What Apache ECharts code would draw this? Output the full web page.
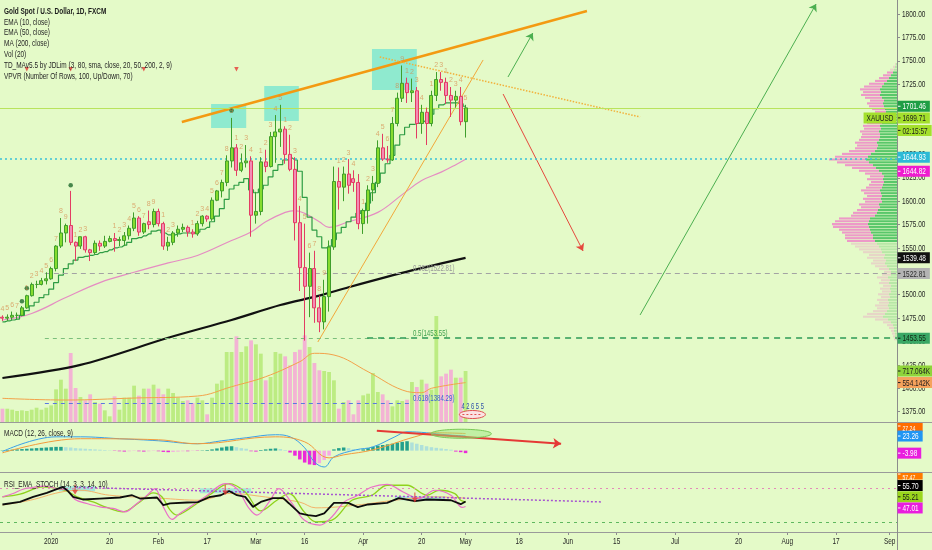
<!DOCTYPE html>
<html><head><meta charset="utf-8">
<script src="https://cdn.jsdelivr.net/npm/echarts@6/dist/echarts.min.js"></script>
<style>html,body{margin:0;padding:0;background:#e4fac8;}#c{width:932px;height:550px;}</style>
</head><body><div id="c"></div>
<script>
// ================= DATA =================
const barDates = ['2019-12-17','2019-12-18','2019-12-19','2019-12-20','2019-12-23','2019-12-24','2019-12-26','2019-12-27','2019-12-30','2019-12-31',
'2020-01-02','2020-01-03','2020-01-06','2020-01-07','2020-01-08','2020-01-09','2020-01-10',
'2020-01-13','2020-01-14','2020-01-15','2020-01-16','2020-01-17',
'2020-01-20','2020-01-21','2020-01-22','2020-01-23','2020-01-24',
'2020-01-27','2020-01-28','2020-01-29','2020-01-30','2020-01-31',
'2020-02-03','2020-02-04','2020-02-05','2020-02-06','2020-02-07',
'2020-02-10','2020-02-11','2020-02-12','2020-02-13','2020-02-14',
'2020-02-17','2020-02-18','2020-02-19','2020-02-20','2020-02-21',
'2020-02-24','2020-02-25','2020-02-26','2020-02-27','2020-02-28',
'2020-03-02','2020-03-03','2020-03-04','2020-03-05','2020-03-06',
'2020-03-09','2020-03-10','2020-03-11','2020-03-12','2020-03-13',
'2020-03-16','2020-03-17','2020-03-18','2020-03-19','2020-03-20',
'2020-03-23','2020-03-24','2020-03-25','2020-03-26','2020-03-27',
'2020-03-30','2020-03-31','2020-04-01','2020-04-02','2020-04-03',
'2020-04-06','2020-04-07','2020-04-08','2020-04-09',
'2020-04-13','2020-04-14','2020-04-15','2020-04-16','2020-04-17',
'2020-04-20','2020-04-21','2020-04-22','2020-04-23','2020-04-24',
'2020-04-27','2020-04-28','2020-04-29','2020-04-30','2020-05-01'];
const slotCount = 184; // trading-day slots on the time axis incl. future space

const opens  = [1476,1475,1476,1478,1478,1486,1499,1511,1511,1515, 1517,1528,1552,1566,1574,1556,1552, 1562,1548,1545,1555,1552, 1557,1560,1558,1558,1563, 1571,1582,1567,1578,1575,
 1589,1576,1552,1556,1566, 1570,1572,1567,1565,1576, 1584,1581,1601,1611,1620, 1643,1657,1633,1641,1643,
 1585,1589,1642,1637,1669, 1674,1677,1650,1634,1577, 1529,1509,1528,1486,1471, 1498,1551,1621,1615,1629, 1624,1620,
 1576,1590,1612, 1619,1657,1645,1644, 1683,1710,1726,1716,1718, 1683,1695,1683,1713,1730, 1727,1713,1708,1712, 1685];
const closes = [1475,1476,1478,1478,1486,1499,1511,1511,1515,1517, 1528,1552,1566,1574,1556,1552,1562, 1548,1545,1555,1552,1557, 1560,1558,1559,1563,1571, 1582,1567,1576,1575,1589,
 1576,1552,1556,1566,1570, 1572,1567,1565,1576,1584, 1581,1601,1611,1620,1643, 1657,1633,1641,1643,1585,
 1589,1642,1637,1669,1674, 1677,1650,1634,1577,1529, 1509,1528,1486,1471,1498, 1551,1621,1615,1629,1617, 1620,1576,
 1590,1612,1619, 1657,1645,1644,1683, 1710,1726,1716,1718,1683, 1695,1683,1713,1730,1727, 1713,1708,1712,1685, 1699.71];
const highs  = [1478,1479,1482,1481,1488,1500,1513,1515,1518,1524, 1530,1553,1582,1576,1611,1557,1562, 1563,1549,1558,1558,1563, 1563,1566,1562,1567,1574, 1588,1584,1577,1590,1592,
 1592,1578,1562,1568,1574, 1576,1574,1570,1579,1585, 1585,1604,1612,1623,1649, 1689,1661,1651,1660,1648,
 1610,1647,1655,1674,1692, 1703,1680,1671,1647,1595, 1576,1545,1547,1499,1516, 1558,1637,1636,1637,1645, 1633,1629,
 1592,1617,1627, 1665,1672,1659,1690, 1716,1745,1732,1731,1722, 1703,1700,1718,1738,1738, 1732,1722,1718,1722, 1703];
const lows   = [1472,1472,1473,1474,1477,1485,1498,1507,1510,1511, 1516,1525,1550,1556,1553,1536,1549, 1545,1536,1543,1547,1550, 1556,1546,1552,1552,1559, 1568,1563,1565,1570,1572,
 1573,1548,1547,1553,1562, 1567,1562,1561,1563,1573, 1578,1579,1600,1604,1616, 1636,1627,1631,1636,1562,
 1576,1585,1631,1636,1641, 1658,1640,1632,1558,1504, 1451,1476,1470,1460,1463, 1482,1548,1591,1600,1608, 1610,1570,
 1565,1576,1600, 1615,1643,1641,1643, 1680,1706,1705,1706,1667, 1672,1660,1680,1707,1718, 1704,1690,1700,1681, 1668];
// volume in thousands
const volumeK = [187,187,173,155,164,155,173,201,173,201, 234,459,595,469,970,478,351, 305,389,281,258,164, 80,361,173,342,342, 511,370,469,469,525,
 469,389,469,408,342, 295,305,267,342,305, 108,342,539,586,984, 984,1205,984,1064,1148,
 1092,961,586,633,984, 961,923,797,984,1017, 1219,1054,830,727,717, 703,586,187,281,305, 108,305,
 375,398,689, 422,389,305,220, 305,295,314,562,492, 595,539,455,1490,642, 680,736,623,623, 717.064];
// EMA(10) drawn as a step line
const ema10 = [1471,1472,1473,1474,1478,1483,1488,1492,1497,1500, 1506,1513,1521,1528,1533,1537,1540, 1541,1542,1543,1545,1546, 1548,1550,1551,1553,1556, 1560,1561,1563,1565,1568,
 1569,1566,1564,1564,1565, 1566,1566,1566,1567,1570, 1572,1578,1584,1592,1602, 1613,1617,1620,1624,1612,
 1609,1613,1617,1626,1633, 1639,1644,1646,1644,1632, 1604,1583,1569,1562,1550, 1552,1559,1566,1572,1578, 1583,1587,
 1590,1598,1609, 1620,1630,1640,1649, 1660,1671,1679,1682,1683, 1685,1687,1693,1699,1703, 1705,1705,1705,1704, 1701.46];
// [bar index, value]
const ema50 = [[0,1473],[6,1480],[13,1497],[20,1513],[27,1524],[34,1534],[40,1542],[47,1558],[51,1567],[54,1578],[58,1588],[60,1590],[62,1587],[65,1578],[67,1572],[71,1578],[77,1588],[82,1607],[86,1622],[90,1631],[93,1639],[95,1644.82]];
const ma200 = [[0,1411],[16,1425],[34,1454],[47,1473],[57,1489],[65,1499],[71,1508],[84,1526],[95,1539.48]];
const volMa20 = [[0,333],[13,309],[27,337],[40,365],[47,496],[54,637],[61,848],[64,966],[68,942],[75,707],[82,450],[86,412],[88,474],[95,554.142]];
// MACD (12,26,9)
const macdLine = [[0,-1.4],[11,22],[16,22],[24,19],[32,15.7],[40,11],[45,15.7],[50,20.5],[56,25.3],[59,22],[62,4.5],[64,-18],[66,-26],[68,-10],[72.5,1.3],[76,6],[80.5,22],[83,30],[87,28.5],[91,25.3],[95,23.26]];
const macdSignal = [[0,-3.5],[16,19],[32,17.3],[40,11],[56,22],[62,14],[67,-11.5],[70,-6.7],[76,1.3],[84.6,22],[88.7,28.5],[95,27.24]];
const macdHist = [0.5,1,1.5,2,2.5,3,3.5,4,4.5,5, 5.5,6,6,5.5,5,4,3.5, 3,2.5,2,1.5,1, 0.5,-0.5,-1,-1.5,-1, -0.5,-1,-1.5,-1,-0.5,
 -1,-2,-2.5,-2,-1.5, -1,-1,-0.5,-0.5,0.5, 1,2,3.5,5,6.5, 7,5.5,4,3,-1,
 -1.5,1,2,3,3.5, 2.5,1,-3,-8,-14, -19,-22,-23,-20,-15, -8,2,4,5,4, 2.5,1.5,
 2,4,6, 8,9,10,11, 13,14,15,13,11, 9,7,5.5,4.5,3.5, 2.5,1.5,-1.5,-2.5, -3.98];
// RSI_EMA_STOCH pane
const rsiBlack = [[0,50.5],[3.6,55],[6.3,64],[9.1,71],[11.4,78.6],[12.4,81.4],[13.4,74.4],[14.5,64],[16.5,59.3],[20,61],[24.1,62.8],[26.6,66.8],[28.2,61],[31.7,62.8],[33,49.3],[34.4,52.3],[37.9,54],[40.1,54.6],[42.4,63.3],[44.8,66.8],[46.5,74.4],[48.1,66.8],[49.8,64],[51.4,46.3],[53,55],[55.5,61.6],[57.6,61.6],[58.8,52.3],[61,34.7],[62.7,31.8],[64.3,30],[66,34.7],[68,53.3],[70.9,53.3],[72.9,45.8],[75,50.5],[78.9,53.3],[81.3,61.6],[84.6,56.3],[87.1,59.3],[92,58],[94,51],[95,55.7]];
const rsiPink = [[0,64],[2.2,69.8],[4.2,77.4],[6.3,80.4],[8.3,83],[11.2,78.6],[13.2,75.6],[14.9,59.3],[17.3,52.3],[20,46.3],[22.7,43.5],[25.1,37.5],[27.6,52.3],[29.7,66.8],[31.3,78.6],[33,46.3],[34.8,24.2],[36.4,34.7],[38.5,46.3],[41.6,64],[45.7,87.4],[48.1,78.6],[50.6,43.5],[52.2,31.8],[54.7,55],[56.7,78.6],[59.4,52.3],[61.9,23],[65.1,14.2],[67.6,28.8],[70.1,55],[72.5,65],[75.8,81.4],[78.9,86],[82.2,72.6],[85.4,61],[88.7,75.6],[92,66.8],[94.3,45.3],[95,47.01]];
const rsiLime = [[0,64],[3.6,68.6],[8.3,81.4],[11.4,78.6],[13.2,74.4],[15.3,64],[18.6,55],[21.4,45.3],[24.7,37.5],[28.2,55],[30.9,71],[32.7,64],[34.4,40.5],[35.8,31.8],[37.9,40.5],[42.4,66.8],[46.5,87.4],[49.8,72.6],[53,39.3],[56.3,58],[58.8,69.8],[61.9,37.5],[64.3,20],[67.6,23],[71.7,58],[75.8,66.8],[78.9,84.4],[83,84.4],[87.1,66.8],[89.6,75.6],[92.8,69.8],[94,58],[95,55.21]];
const rsiOrange = [[0,49.6],[5.7,58],[11.8,72],[15.9,75.6],[22,66.8],[32.3,61.6],[40.5,58],[46.7,70],[52.8,65],[61,54.6],[64.3,44.6],[72.5,49.3],[80.5,58],[88.7,64],[95,61.6]];
// VPVR: rows of 3 price units starting at vpvrLow; up / down volume per row
const vpvrLow = 1451, vpvrStep = 3, vpvrVaLow = 1556, vpvrVaHigh = 1738;
const vpvrUp   = [1,2,2,3,3,4,6,9,14,12, 10,8,9,8,9,7,8,6,7,6, 8,7,9,6,6,8,10,12,11,13, 12,15,16,18,20,22,24,24,26,27, 28,29,28,27,22,20,19,17,18,15,
 16,15,16,17,15,14,13,14,13,15, 18,21,24,28,31,29,26,22,20,19, 20,18,17,17,18,16,17,15,14,12, 10,11,12,13,14,13,15,17,16,17, 15,13,10,8,6,4,3,2,1];
const vpvrDown = [2,2,3,3,5,6,8,13,20,18, 14,12,13,10,11,9,11,9,10,8, 10,9,11,9,7,10,12,14,13,17, 16,19,22,24,26,28,28,28,29,31, 36,36,34,31,24,24,21,19,20,17,
 18,15,17,19,16,14,13,16,14,17, 20,24,28,32,37,33,29,26,22,21, 22,20,19,18,19,17,17,15,14,12, 10,11,13,15,16,14,17,19,18,20, 18,15,12,10,8,6,4,2,1];
// TD sequential markers: dots, top triangles and setup counts [bar index, count]
const tdDots = [[4,1493],[5,1507],[14,1617],[47,1697]];
const tdTops = [[5,1741],[14,1741],[29,1741],[48,1741]];
const tdCounts = [[0,4],[1,5],[2,6],[3,7],[5,1],[6,2],[7,3],[8,4],[9,5],[10,6],[11,7],[12,8],[13,9],[15,1],[16,2],[17,3],
 [23,1],[24,2],[25,3],[26,4],[27,5],[28,6],[29,7],[30,8],[31,9],[33,1],[34,2],[35,3],
 [39,1],[40,2],[41,3],[42,4],[43,5],[44,6],[45,7],[46,8],[47,9],[48,1],[49,2],[50,3],[51,4],
 [53,1],[54,2],[55,3],[56,4],[57,5],[58,1],[59,2],[60,3],[61,4],[62,5],[63,6],[64,7],[65,8],[66,9],
 [69,1],[70,2],[71,3],[72,4],[74,1],[75,2],[76,3],[77,4],[78,5],[79,6],[80,7],[81,8],[82,9],
 [83,1],[84,2],[85,3],[86,4],[88,1],[89,2],[90,3],[91,1],[92,2],[93,3],[94,4],[95,5]];
// axis ticks
const xTickLabels = [[10,'2020'],[22,'20'],[32,'Feb'],[42,'17'],[52,'Mar'],[62,'16'],[74,'Apr'],[86,'20'],[95,'May'],[106,'18'],[116,'Jun'],[126,'15'],[138,'Jul'],[151,'20'],[161,'Aug'],[171,'17'],[182,'Sep']];
const priceTicks = [1375,1400,1425,1450,1475,1500,1525,1550,1575,1600,1625,1650,1675,1700,1725,1750,1775,1800];
// drawings (bar index, price)
const trendTop = [[36.8,1684.6],[119.9,1803.2]];
const trendUp = [[64.7,1449.5],[98.6,1750.9]];
const trendDown = [[77.4,1754.1],[130.8,1690.0]];
const arrowUpShort = [[103.7,1732.7],[108.8,1779.7]];
const arrowDown = [[102.7,1714.5],[119.1,1546.8]];
const arrowUpLong = [[130.8,1478.4],[166.9,1810.7]];
const boxes = [[[42.8,1703.9],[50.0,1678.2]],[[53.7,1723.1],[60.8,1685.7]],[[75.8,1762.6],[85.0,1718.8]]];
const fib = {start:8.7, end:84.2, l382:1522.81, l5:1453.55, l618:1384.29};
const lastPrice = 1699.71, poc = 1644.93;

// ================= CHART =================
const FONT = '"Liberation Sans",Arial,sans-serif';
const SX = 0.68; // horizontal text compression to match the condensed UI font
const BG = '#e4fac8';
const W_PLOT = 897;
const tickMap = {}; xTickLabels.forEach(t => tickMap[t[0]] = t[1]);
const cats = [];
for (let i = 0; i < slotCount; i++) cats.push(i < barDates.length ? barDates[i] : 'f' + i);
const showTick = (idx) => tickMap[idx] !== undefined;

const candleData = opens.map((o, i) => [o, closes[i], lows[i], highs[i]]);
const volData = volumeK.map((v, i) => ({value: v, itemStyle: {color: closes[i] >= opens[i] ? '#bcec82' : '#f3b3d4'}}));
const histData = macdHist.map((v, i) => {
  const prev = i > 0 ? macdHist[i-1] : 0;
  let c;
  if (v >= 0) c = v >= prev ? '#24a08c' : '#aee0da';
  else c = v <= prev ? '#ea2ad9' : '#f6a9e2';
  return {value: v, itemStyle: {color: c}};
});
const vpvrData = vpvrUp.map((u, i) => [vpvrLow + i * vpvrStep, u, vpvrDown[i]]);
const tdCountData = tdCounts.map(c => ({value:[c[0], highs[c[0]]], label:{formatter: String(c[1])}}));

const catAxis = (g, show) => ({type:'category', gridIndex:g, data:cats, boundaryGap:true, show:!!show,
  axisLine:{show:!!show, onZero:false, lineStyle:{color:'#8c8c8c'}},
  axisTick:{show:!!show, interval:showTick, alignWithLabel:true, length:3, lineStyle:{color:'#8c8c8c'}},
  axisLabel:{show:false},
  splitLine:{show:false}});
const valAxisX = (g) => ({type:'value', gridIndex:g, min:-0.5, max:slotCount - 0.5, show:false, axisLine:{show:false, onZero:false}, splitLine:{show:false}});
const rightY = (g, min, max, extra) => Object.assign({type:'value', gridIndex:g, position:'right', min, max, splitLine:{show:false},
  axisLine:{show:true, onZero:false, lineStyle:{color:'#8c8c8c'}}, axisTick:{show:false}, axisLabel:{show:false}}, extra || {});

const lineItem = (pts, color, width, type, arrow) =>
  [{coord: pts[0], symbol:'none', lineStyle:{color, width, type: type || 'solid'}},
   {coord: pts[1], symbol: arrow ? 'arrow' : 'none', symbolSize: arrow ? 7 : 0}];

const option = {
  backgroundColor: BG,
  animation: false,
  textStyle: {fontFamily: FONT},
  grid: [
    {left:0, width:W_PLOT, top:0, height:422, outerBoundsMode:'none'},
    {left:0, width:W_PLOT, top:292, height:130, outerBoundsMode:'none'},
    {left:W_PLOT-100, width:100, top:0, height:422, outerBoundsMode:'none'},
    {left:0, width:W_PLOT, top:423, height:49, outerBoundsMode:'none'},
    {left:0, width:W_PLOT, top:473, height:59, outerBoundsMode:'none'}
  ],
  xAxis: [
    catAxis(0), valAxisX(0),
    catAxis(1), valAxisX(1),
    {type:'value', gridIndex:2, min:0, max:100, inverse:true, show:false, axisLine:{show:false, onZero:false}, splitLine:{show:false}},
    catAxis(3), valAxisX(3),
    catAxis(4, true), valAxisX(4)
  ],
  yAxis: [
    rightY(0, 1364, 1815, {axisTick:{show:true, length:3, customValues:priceTicks, lineStyle:{color:'#8c8c8c'}}}),
    {type:'value', gridIndex:1, min:0, max:1828, show:false, axisLine:{show:false, onZero:false}, splitLine:{show:false}},
    {type:'value', gridIndex:2, min:1364, max:1815, show:false, axisLine:{show:false, onZero:false}, splitLine:{show:false}},
    rightY(3, -34, 44),
    rightY(4, 2, 106)
  ],
  series: [
    // volume
    {type:'bar', xAxisIndex:2, yAxisIndex:1, data:volData, barWidth:'78%', z:1, silent:true},
    {type:'line', xAxisIndex:3, yAxisIndex:1, data:volMa20, smooth:0.4, showSymbol:false, lineStyle:{color:'#f3a24a', width:1}, z:2},
    // VPVR
    {type:'custom', xAxisIndex:4, yAxisIndex:2, data:vpvrData, encode:{x:[1,2], y:0}, z:2, silent:true,
      renderItem:(params, api) => {
        const p = api.value(0), up = api.value(1), dn = api.value(2);
        const a = api.coord([0, p + vpvrStep]);
        const b = api.coord([up, p]);
        const c = api.coord([up + dn, p]);
        const inVA = p >= vpvrVaLow && p < vpvrVaHigh;
        const top = a[1] + 0.35, h = Math.max(0.8, b[1] - a[1] - 0.7);
        return {type:'group', children:[
          {type:'rect', shape:{x:b[0], y:top, width:a[0]-b[0], height:h}, style:{fill: inVA ? 'rgba(50,185,80,0.78)' : 'rgba(80,190,90,0.30)'}},
          {type:'rect', shape:{x:c[0], y:top, width:b[0]-c[0], height:h}, style:{fill: inVA ? 'rgba(240,120,200,0.75)' : 'rgba(240,130,200,0.30)'}}
        ]};
      }},
    // moving averages
    {type:'line', xAxisIndex:1, yAxisIndex:0, data:ma200, smooth:0.3, showSymbol:false, lineStyle:{color:'#111', width:2.2}, z:3},
    {type:'line', xAxisIndex:1, yAxisIndex:0, data:ema50, smooth:0.4, showSymbol:false, lineStyle:{color:'#e58cc2', width:1.2}, z:3},
    {type:'line', xAxisIndex:0, yAxisIndex:0, data:ema10, step:'middle', showSymbol:false, lineStyle:{color:'#2e9c44', width:1.2}, z:4},
    // candles
    {type:'candlestick', xAxisIndex:0, yAxisIndex:0, data:candleData, barWidth:'72%', z:5,
      itemStyle:{color:'#86dc2e', color0:'#f48cb5', borderColor:'#3f9e2c', borderColor0:'#e23c63', borderWidth:1}},
    // TD markers
    {type:'scatter', xAxisIndex:0, yAxisIndex:0, data:tdDots, symbol:'circle', symbolSize:4.5, itemStyle:{color:'#1e6a2c'}, z:6},
    {type:'scatter', xAxisIndex:0, yAxisIndex:0, data:tdTops, symbol:'triangle', symbolRotate:180, symbolSize:4.5, itemStyle:{color:'#e53935'}, z:6},
    {type:'scatter', xAxisIndex:0, yAxisIndex:0, data:tdCountData, symbolSize:0, z:6, silent:true,
      label:{show:true, position:'top', distance:3, fontSize:7, fontFamily:FONT, color:'rgba(214,132,70,0.85)'}},
    // drawings on main pane
    {type:'line', xAxisIndex:1, yAxisIndex:0, data:[[-5,1300]], showSymbol:false, lineStyle:{opacity:0}, z:7, silent:true,
      markArea:{silent:true, itemStyle:{color:'rgba(40,215,215,0.45)'}, data: boxes.map(b => [{coord:b[0]},{coord:b[1]}])},
      markLine:{silent:true, animation:false, label:{show:false}, symbol:['none','none'], data:[
        lineItem(trendTop, '#f39a12', 2.5),
        lineItem(trendUp, '#f2a83a', 1),
        lineItem(trendDown, '#f2b13a', 1.5, 'dotted'),
        lineItem(arrowUpShort, '#4caf50', 1, 'solid', true),
        lineItem(arrowDown, '#e5483d', 1, 'solid', true),
        lineItem(arrowUpLong, '#4caf50', 1, 'solid', true),
        [{coord:[-0.5, lastPrice], lineStyle:{color:'#b9e35c', width:1, type:'solid'}}, {coord:[slotCount-0.5, lastPrice]}],
        [{coord:[-0.5, poc], lineStyle:{color:'#38c1d8', width:1.6, type:[2,3]}}, {coord:[slotCount-0.5, poc]}],
        [{coord:[fib.start, fib.l382], lineStyle:{color:'#a3a3a3', width:1, type:[5,4]}}, {coord:[slotCount-0.5, fib.l382]}],
        [{coord:[fib.start, fib.l5], lineStyle:{color:'#7cbf7c', width:1, type:[4,4]}}, {coord:[fib.end, fib.l5]}],
        [{coord:[74.8, fib.l5], lineStyle:{color:'#2c9a55', width:1.5, type:[6,5]}}, {coord:[slotCount-0.5, fib.l5]}],
        [{coord:[fib.start, fib.l618], lineStyle:{color:'#5a78e0', width:1, type:[4,4]}}, {coord:[fib.end, fib.l618]}]
      ]}},
    // MACD
    {type:'bar', xAxisIndex:5, yAxisIndex:3, data:histData, barWidth:'72%', z:2},
    {type:'line', xAxisIndex:6, yAxisIndex:3, data:macdLine, smooth:0.4, showSymbol:false, lineStyle:{color:'#3aa0e8', width:1}, z:3},
    {type:'line', xAxisIndex:6, yAxisIndex:3, data:macdSignal, smooth:0.4, showSymbol:false, lineStyle:{color:'#f39a3c', width:1}, z:3,
      markLine:{silent:true, label:{show:false}, symbol:['none','none'], data:[
        [{coord:[76.8,31.7], lineStyle:{color:'#e53935', width:2, type:'solid', curveness:0.09}}, {coord:[114.6,10.9], symbol:'arrow', symbolSize:8}]
      ]}},
    // RSI pane
    {type:'line', xAxisIndex:8, yAxisIndex:4, data:rsiOrange, smooth:0.4, showSymbol:false, lineStyle:{color:'#f4b36a', width:1}, z:3,
      markArea:{silent:true, itemStyle:{color:'rgba(90,205,240,0.45)'}, data:[
        [{coord:[11.6,82.6]},{coord:[19,73.9]}],[{coord:[40.5,79]},{coord:[51,70.4]}],[{coord:[80.5,65]},{coord:[90.8,58]}]]},
      markLine:{silent:true, label:{show:false}, symbol:['none','none'], data:[
        [{coord:[-0.5,80], lineStyle:{color:'#e38ab8', width:1.2, type:[2,4]}}, {coord:[slotCount-0.5,80]}],
        [{coord:[-0.5,20], lineStyle:{color:'#5fb85f', width:1.2, type:[3,4]}}, {coord:[slotCount-0.5,20]}],
        [{coord:[14.9,80.9], lineStyle:{color:'#a653d1', width:1.5, type:[2,2]}}, {coord:[122.8,55]}]
      ]}},
    {type:'line', xAxisIndex:8, yAxisIndex:4, data:rsiLime, smooth:0.35, showSymbol:false, lineStyle:{color:'#8fd21c', width:1.3}, z:4},
    {type:'line', xAxisIndex:8, yAxisIndex:4, data:rsiPink, smooth:0.35, showSymbol:false, lineStyle:{color:'#ea6fc8', width:1.2}, z:4},
    {type:'line', xAxisIndex:8, yAxisIndex:4, data:rsiBlack, showSymbol:false, lineStyle:{color:'#0d0d0d', width:1.8}, z:5},
    {type:'scatter', xAxisIndex:8, yAxisIndex:4, data:[[14.9,77],[45.7,76],[84.6,63]], z:6,
      symbol:'path://M4,0 L6,0 L6,7 L10,7 L5,13 L0,7 L4,7 Z', symbolSize:[6,10], itemStyle:{color:'#e53935'}}
  ]
};

const chart = echarts.init(document.getElementById('c'));
chart.setOption(option);

// ============ overlays (positions via the chart's own scales) ============
const px = (xa, v) => chart.convertToPixel({xAxisIndex:xa}, v);
const py = (ya, v) => chart.convertToPixel({yAxisIndex:ya}, v);
const ctx = document.createElement('canvas').getContext('2d');
const measure = (t, size, weight) => { ctx.font = (weight || 'normal') + ' ' + size + 'px ' + FONT; return ctx.measureText(t).width * SX; };
const gfx = [];
const txt = (x, y, text, color, size, weight, align, z) => gfx.push({type:'text', x, y, z: z || 120, scaleX: SX,
  style:{text, fill:color, fontSize:size || 9, fontFamily:FONT, fontWeight:weight || 'normal', verticalAlign:'middle', align:align || 'left'}});
// pane separators & axis continuation
[422.5, 472.5, 532.5].forEach(y => gfx.push({type:'line', z:50, shape:{x1:0, y1:y, x2:932, y2:y}, style:{stroke:'#9a9a9a', lineWidth:1}}));
gfx.push({type:'line', z:50, shape:{x1:W_PLOT+0.5, y1:532, x2:W_PLOT+0.5, y2:550}, style:{stroke:'#8c8c8c', lineWidth:1}});

// price axis labels
priceTicks.forEach(v => txt(W_PLOT + 5, py(0, v), v.toFixed(2), '#1e1e1e', 9.5, 'normal', 'left', 60));
// time axis labels
xTickLabels.forEach(t => txt(chart.convertToPixel({xAxisIndex:7}, t[0]), 541.5, t[1], '#262626', 9.5, 'normal', 'center', 60));

// legend / pane titles
const legendLines = ['Gold Spot / U.S. Dollar, 1D, FXCM','EMA (10, close)','EMA (50, close)','MA (200, close)','Vol (20)',
  'TD_MAv5.5 by JDLim (3, 80, sma, close, 20, 50, 200, 2, 9)','VPVR (Number Of Rows, 100, Up/Down, 70)'];
legendLines.forEach((t, i) => txt(4, 11 + i * 10.9, t, i === 0 ? '#1a1a1a' : '#262626', 9.5, i === 0 ? 'bold' : 'normal'));
txt(4, 433, 'MACD (12, 26, close, 9)', '#262626', 9.5);
txt(4, 484, 'RSI_EMA_STOCH (14, 3, 3, 14, 10)', '#262626', 9.5);

// fib labels
txt(px(1, fib.end), py(0, fib.l382) - 5, '0.382(' + fib.l382.toFixed(2) + ')', '#9a9a9a', 9);
txt(px(1, fib.end), py(0, fib.l5) - 5, '0.5(' + fib.l5.toFixed(2) + ')', '#3e9f4e', 9);
txt(px(1, fib.end), py(0, fib.l618) - 4, '0.618(' + fib.l618.toFixed(2) + ')', '#3d63d6', 9);

// event marker
const evX = px(1, 96.4), evY = py(0, 1372);
gfx.push({type:'ellipse', z:110, shape:{cx:evX, cy:evY, rx:13, ry:4}, style:{fill:'#fbe3e3', stroke:'#e05050', lineWidth:1}});
gfx.push({type:'line', z:111, shape:{x1:evX-10, y1:evY, x2:evX+10, y2:evY}, style:{stroke:'#e05050', lineWidth:1, lineDash:[2,2]}});
txt(evX - 11, evY - 7.5, '4 2 6 5 5', '#2d4ea8', 8.5);

// MACD ellipse
const eCx = px(6, 94.1), eCy = py(3, 26.9);
gfx.push({type:'ellipse', z:20, shape:{cx:eCx, cy:eCy, rx:px(6, 100.3) - eCx, ry:4.5}, style:{fill:'rgba(150,228,120,0.45)', stroke:'#79c956', lineWidth:1}});

// right-axis value tags
const tags = [
  {t:'1701.46', ya:0, v:1701.46, dy:0, bg:'#1f9e45', fg:'#ffffff'},
  {t:'1699.71', ya:0, v:lastPrice, dy:10, bg:'#a4e02c', fg:'#1c1c1c'},
  {t:'02:15:57', ya:0, v:lastPrice, dy:22.5, bg:'#a4e02c', fg:'#1c1c1c'},
  {t:'1644.93', ya:0, v:poc, dy:-2, bg:'#2cbad6', fg:'#ffffff'},
  {t:'1644.82', ya:0, v:1644.82, dy:12, bg:'#ef1ccf', fg:'#ffffff'},
  {t:'1539.48', ya:0, v:1539.48, dy:0, bg:'#111111', fg:'#ffffff'},
  {t:'1522.81', ya:0, v:fib.l382, dy:0, bg:'#b3b3b3', fg:'#2a2a2a'},
  {t:'1453.55', ya:0, v:fib.l5, dy:0, bg:'#3aa865', fg:'#10240f'},
  {t:'717.064K', ya:1, v:717.064, dy:0, bg:'#8fd43b', fg:'#1c1c1c'},
  {t:'554.142K', ya:1, v:554.142, dy:0, bg:'#f5a25c', fg:'#1c1c1c'},
  {t:'27.24', ya:3, v:27.24, dy:-7.5, bg:'#ff6d00', fg:'#ffffff', clipTop:423},
  {t:'23.26', ya:3, v:23.26, dy:0, bg:'#2196f3', fg:'#ffffff'},
  {t:'-3.98', ya:3, v:-3.98, dy:0, bg:'#e91ede', fg:'#ffffff'},
  {t:'57.47', ya:4, v:55.70, dy:-27.5, bg:'#ff7a00', fg:'#ffffff', clipTop:473},
  {t:'55.70', ya:4, v:55.70, dy:-16, bg:'#000000', fg:'#ffffff'},
  {t:'55.21', ya:4, v:55.21, dy:-5, bg:'#9ad61c', fg:'#1c1c1c'},
  {t:'47.01', ya:4, v:47.01, dy:1.5, bg:'#e91ede', fg:'#ffffff'}
];
tags.forEach(tg => {
  const cy = py(tg.ya, tg.v) + tg.dy;
  let top = cy - 5.5, h = 11;
  if (tg.clipTop !== undefined && top < tg.clipTop) { h -= (tg.clipTop - top); top = tg.clipTop; }
  const w = measure(tg.t, 9.5) + 9;
  gfx.push({type:'rect', z:100, shape:{x:W_PLOT + 0.5, y:top, width:w, height:h}, style:{fill:tg.bg}});
  gfx.push({type:'line', z:101, shape:{x1:W_PLOT + 1, y1:cy, x2:W_PLOT + 3.5, y2:cy}, style:{stroke:tg.fg, lineWidth:1}});
  if (!tg.clipTop) txt(W_PLOT + 5.5, cy + 0.5, tg.t, tg.fg, 9.5);
  else txt(W_PLOT + 5.5, top + h / 2 + 1.5, tg.t, tg.fg, 7.5);
});
// symbol tag left of axis
const lpY = py(0, lastPrice) + 10;
const sw = measure('XAUUSD', 9.5) + 6;
gfx.push({type:'rect', z:100, shape:{x:W_PLOT - sw - 0.5, y:lpY - 5.5, width:sw, height:11}, style:{fill:'#a4e02c'}});
txt(W_PLOT - sw + 2.5, lpY + 0.5, 'XAUUSD', '#1c1c1c', 9.5);

chart.setOption({graphic: gfx});
</script>
</body></html>
